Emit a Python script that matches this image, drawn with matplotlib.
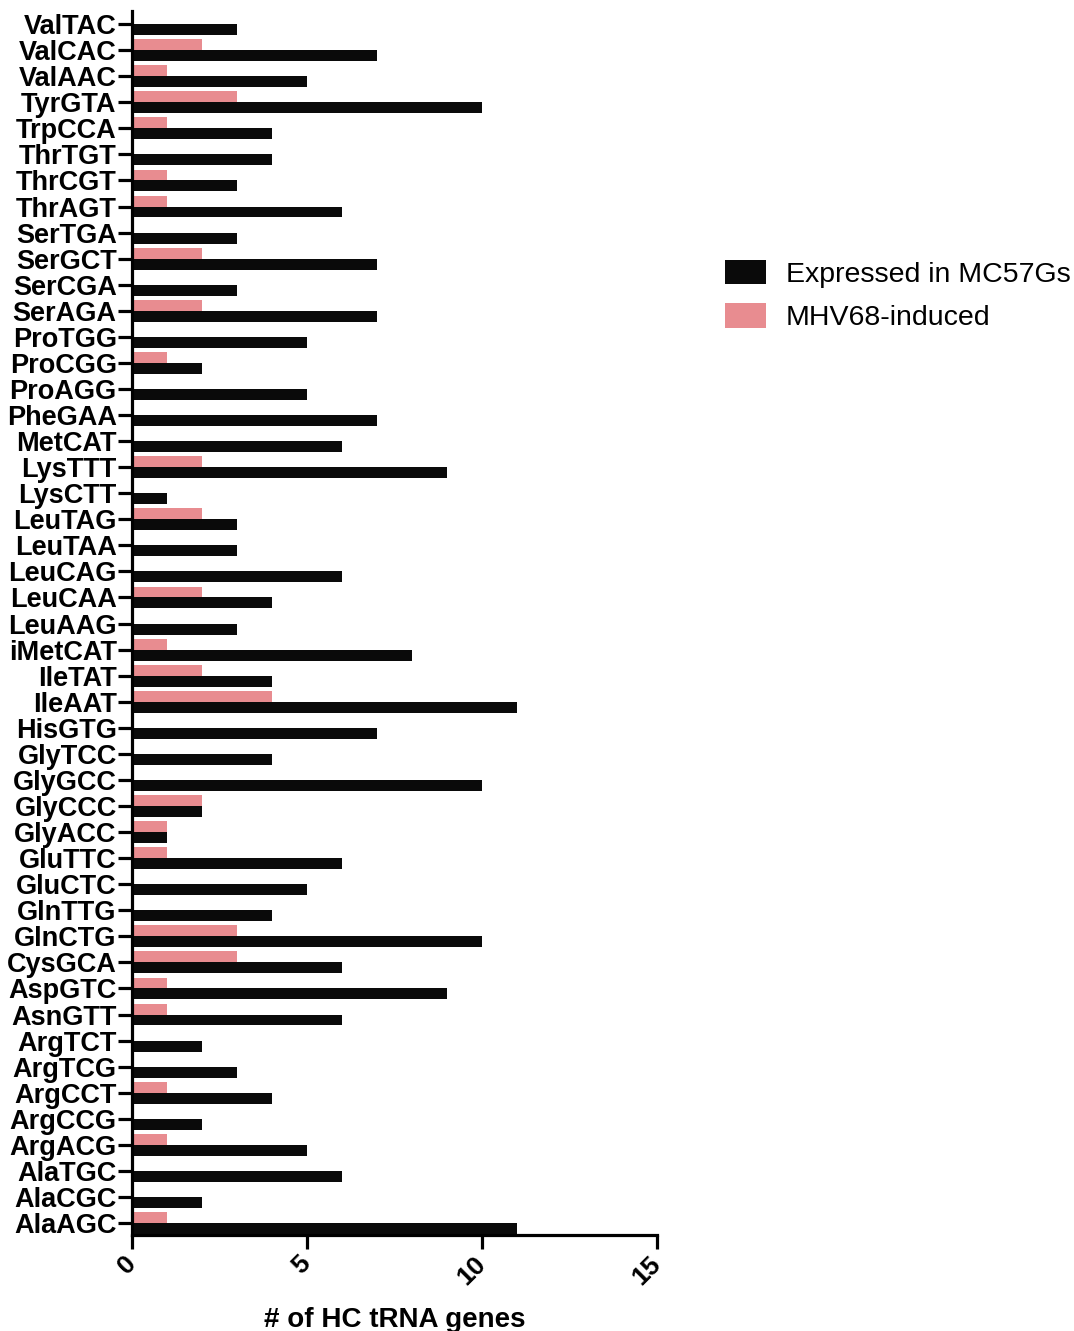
import matplotlib
matplotlib.use("Agg")
import matplotlib.pyplot as plt
import numpy as np

categories = ["ValTAC", "ValCAC", "ValAAC", "TyrGTA", "TrpCCA", "ThrTGT", "ThrCGT", "ThrAGT",
              "SerTGA", "SerGCT", "SerCGA", "SerAGA", "ProTGG", "ProCGG", "ProAGG", "PheGAA",
              "MetCAT", "LysTTT", "LysCTT", "LeuTAG", "LeuTAA", "LeuCAG", "LeuCAA", "LeuAAG",
              "iMetCAT", "IleTAT", "IleAAT", "HisGTG", "GlyTCC", "GlyGCC", "GlyCCC", "GlyACC",
              "GluTTC", "GluCTC", "GlnTTG", "GlnCTG", "CysGCA", "AspGTC", "AsnGTT", "ArgTCT",
              "ArgTCG", "ArgCCT", "ArgCCG", "ArgACG", "AlaTGC", "AlaCGC", "AlaAGC"]
expressed = [3, 7, 5, 10, 4, 4, 3, 6,
             3, 7, 3, 7, 5, 2, 5, 7,
             6, 9, 1, 3, 3, 6, 4, 3,
             8, 4, 11, 7, 4, 10, 2, 1,
             6, 5, 4, 10, 6, 9, 6, 2,
             3, 4, 2, 5, 6, 2, 11]
induced = [0, 2, 1, 3, 1, 0, 1, 1,
           0, 2, 0, 2, 0, 1, 0, 0,
           0, 2, 0, 2, 0, 0, 2, 0,
           1, 2, 4, 0, 0, 0, 2, 1,
           1, 0, 0, 3, 3, 1, 1, 0,
           0, 1, 0, 1, 0, 0, 1]
xticks = [0, 5, 10, 15]

plt.rcParams['font.family'] = ['Liberation Sans', 'DejaVu Sans']

fig = plt.figure(figsize=(10.74, 13.31), dpi=100)
ax = fig.add_axes([0.1229, 0.0721, 0.6117 - 0.1229, 0.9917 - 0.0721])

n = len(categories)
pos = np.arange(n)[::-1]
h = 0.42
black = '#0a0a0a'
pink = '#E88C90'

ax.barh(pos, expressed, height=-h, align='edge', color=black, label='Expressed in MC57Gs')
ax.barh(pos, induced, height=h, align='edge', color=pink, label='MHV68-induced')

ax.set_ylim(-0.46, n - 1 + 0.5)
ax.set_xlim(0, 15)
ax.set_yticks(pos)
ax.set_yticklabels(categories, fontsize=19.5, fontweight='bold')
ax.set_xticks(xticks)
ax.set_xticklabels([str(t) for t in xticks], fontsize=19, fontweight='bold',
                   rotation=45, ha='right', va='center', rotation_mode='anchor')
ax.set_xlabel('# of HC tRNA genes', fontsize=20, fontweight='bold', labelpad=13)

for s in ['top', 'right']:
    ax.spines[s].set_visible(False)
for s in ['left', 'bottom']:
    ax.spines[s].set_linewidth(2.3)
ax.tick_params(axis='y', length=10, width=2.3, pad=1)
ax.tick_params(axis='x', length=10, width=2.3, pad=8)

handles, labels = ax.get_legend_handles_labels()
fig.legend(handles, labels, loc='upper left', bbox_to_anchor=(0.675, 0.805),
           frameon=False, fontsize=20.5, handlelength=1.45, handleheight=0.95,
           handletextpad=0.68, labelspacing=0.55, borderaxespad=0, borderpad=0)

fig.savefig('out.png', dpi=100)
